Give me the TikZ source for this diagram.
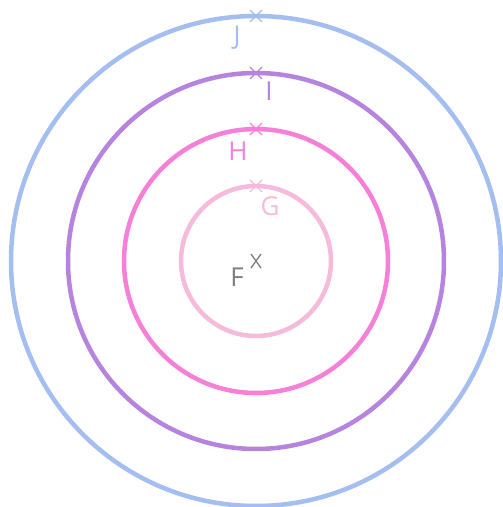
\documentclass[tikz,border=0pt]{standalone}
\usepackage{fontspec}
\setmainfont{Open Sans}
\usetikzlibrary{calc}
\definecolor{ringJ}{RGB}{164,190,242}
\definecolor{ringI}{RGB}{182,132,222}
\definecolor{ringH}{RGB}{246,128,216}
\definecolor{ringG}{RGB}{246,186,218}
\definecolor{ptF}{RGB}{125,125,125}
\tikzset{
  ring/.style={line width=4.5pt},
  cross/.style={line width=1.3pt},
  lbl/.style={font=\fontsize{26}{26}\selectfont}
}
\begin{document}
\begin{tikzpicture}[x=1pt,y=1pt]
\useasboundingbox (0,0) rectangle (503,507);
% Centre
\coordinate (F) at (256,246);

% Rings
\foreach \r/\c in {245/ringJ,188/ringI,132/ringH,75/ringG}
  \draw[ring,\c] (F) circle (\r);

% Points on the rings
\foreach \n/\r/\c in {J/245/ringJ,I/188/ringI,H/132/ringH,G/75/ringG}{
  \coordinate (\n) at ($(F)+(0,\r)$);
  \draw[cross,\c] ($(\n)+(-6,-6)$) -- ($(\n)+(6,6)$);
  \draw[cross,\c] ($(\n)+(-6,6)$) -- ($(\n)+(6,-6)$);
}
\draw[cross,ptF] ($(F)+(-5,-7)$) -- ($(F)+(5,7)$);
\draw[cross,ptF] ($(F)+(-5,7)$) -- ($(F)+(5,-7)$);

% Labels
\node[lbl,text=ringJ] (labJ) at (237,469) {J};
\node[lbl,text=ringI] (labI) at (269,416) {I};
\node[lbl,text=ringH] (labH) at (238,356) {H};
\node[lbl,text=ringG] (labG) at (270,301) {G};
\node[lbl,text=ptF] (labF) at (237,230) {F};
\end{tikzpicture}
\end{document}
